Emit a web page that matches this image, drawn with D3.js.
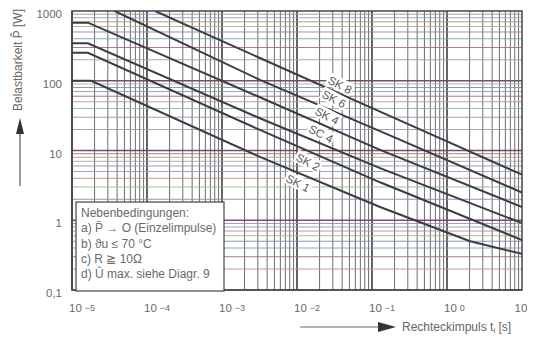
<!DOCTYPE html>
<html>
<head>
<meta charset="utf-8">
<script src="https://cdn.jsdelivr.net/npm/d3@7"></script>
<style>
  body { margin: 0; background: #fff; }
  svg { display: block; font-family: "Liberation Sans", Arial, sans-serif; }
  .tick-label { fill: #6a6a6a; font-size: 11.5px; }
  .note { fill: #6a6a6a; font-size: 12px; }
  .curve-label { fill: #555; font-size: 11.5px; }
</style>
</head>
<body>
<svg id="chart" width="539" height="340"></svg>
<script>
// curves: [pulse time t (s), power P (W)]
const curveNames = ['SK 8', 'SK 6', 'SK 4', 'SC 4', 'SK 2', 'SK 1'];
const sk8 = [[1.28e-4, 1000], [3.2e-3, 212], [0.128, 36], [10, 4.5]];
const sk6 = [[3.7e-5, 1000], [3.2e-3, 103], [0.128, 19], [10, 2.5]];
const sk4 = [[1e-5, 680], [1.63e-5, 680], [3.2e-3, 58], [0.128, 10.2], [10, 1.55]];
const sc4 = [[1e-5, 344], [1.63e-5, 344], [3.2e-3, 29], [0.128, 5.6], [10, 0.91]];
const sk2 = [[1e-5, 252], [1.63e-5, 252], [3.2e-3, 19.7], [0.128, 3.5], [10, 0.52]];
const sk1 = [[1e-5, 100], [1.8e-5, 100], [3.2e-3, 8.1], [0.128, 1.55], [2.03, 0.5], [10, 0.33]];
// where each curve label sits (t, P)
const labelT = [0.0374, 0.0311, 0.0251, 0.0209, 0.014, 0.0103];
const labelP = [87, 54.7, 31.3, 17.3, 6.8, 3.4];

const xTickExp = [-5, -4, -3, -2, -1, 0, 1];
const yTickVals = [1000, 100, 10, 1, 0.1];
const yTickText = ['1000', '100', '10', '1', '0,1'];

const notes = [
    'Nebenbedingungen:',
    'a) P\u0304 \u2192 O (Einzelimpulse)',
    'b) \u03D1u \u2264 70 \u00B0C',
    'c) R \u2267 10\u03A9',
    'd) \u00DB max. siehe Diagr. 9'
];

const svg = d3.select('#chart');
const x = d3.scaleLog().domain([1e-5, 10]).range([72, 522]);
const y = d3.scaleLog().domain([0.1, 1000]).range([290, 11]);

// grid
const hColors = ['#a0707e', '#78a8a8', '#8c88b4', '#a8b488', '#b88c8c', '#8ca2b8', '#a48cb4', '#92b4a2', '#b49c82'];
const grid = svg.append('g');
for (let k = -5; k <= 0; k++) {
    for (let m = 1; m <= 9; m++) {
        const v = m * Math.pow(10, k);
        grid.append('line')
            .attr('x1', x(v)).attr('x2', x(v)).attr('y1', y(0.1)).attr('y2', y(1000))
            .attr('stroke', m === 1 ? '#333' : '#555')
            .attr('stroke-width', m === 1 ? 1.6 : 1)
            .attr('opacity', m === 1 ? 0.95 : 0.85);
    }
}
for (let k = -1; k <= 2; k++) {
    for (let m = 1; m <= 9; m++) {
        const v = m * Math.pow(10, k);
        grid.append('line')
            .attr('x1', x(1e-5)).attr('x2', x(10)).attr('y1', y(v)).attr('y2', y(v))
            .attr('stroke', m === 1 ? '#6a4a66' : hColors[(m + k * 3 + 9) % hColors.length])
            .attr('stroke-width', m === 1 ? 1.6 : 1)
            .attr('opacity', m === 1 ? 0.95 : 0.9);
    }
}
svg.append('rect')
    .attr('x', x(1e-5)).attr('y', y(1000))
    .attr('width', x(10) - x(1e-5)).attr('height', y(0.1) - y(1000))
    .attr('fill', 'none').attr('stroke', '#444').attr('stroke-width', 1.5);

// curves
svg.append('clipPath').attr('id', 'plot').append('rect')
    .attr('x', x(1e-5)).attr('y', y(1000))
    .attr('width', x(10) - x(1e-5)).attr('height', y(0.1) - y(1000));

const line = d3.line().x(d => x(d[0])).y(d => y(d[1]));
const curves = [sk8, sk6, sk4, sc4, sk2, sk1];
svg.append('g').attr('clip-path', 'url(#plot)')
    .selectAll('path').data(curves).enter().append('path')
    .attr('d', line)
    .attr('fill', 'none')
    .attr('stroke', '#3c3c44')
    .attr('stroke-width', 2);

// curve labels
const labels = svg.append('g').selectAll('g').data(curveNames).enter().append('g')
    .attr('transform', (d, i) => `translate(${x(labelT[i])},${y(labelP[i])}) rotate(28)`);
labels.append('rect')
    .attr('x', -14).attr('y', -7).attr('width', 28).attr('height', 13)
    .attr('fill', '#fff');
labels.append('text')
    .attr('class', 'curve-label')
    .attr('text-anchor', 'middle').attr('dy', '0.35em')
    .text(d => d);

// note box
svg.append('rect')
    .attr('x', 76).attr('y', 202).attr('width', 148).attr('height', 89)
    .attr('fill', '#fff').attr('stroke', '#444').attr('stroke-width', 1.2);
svg.append('g').selectAll('text').data(notes).enter().append('text')
    .attr('class', 'note')
    .attr('x', 81).attr('y', (d, i) => 217 + i * 15.3)
    .text(d => d);

// y tick labels
svg.append('g').selectAll('text').data(yTickVals).enter().append('text')
    .attr('class', 'tick-label')
    .attr('x', 62).attr('y', d => y(d) + 3)
    .attr('dy', '0.35em').attr('text-anchor', 'end')
    .text((d, i) => yTickText[i]);

// x tick labels
const xt = svg.append('g').selectAll('text').data(xTickExp).enter().append('text')
    .attr('class', 'tick-label')
    .attr('x', d => d === 1 ? x(10) - 1 : x(Math.pow(10, d)) - 3)
    .attr('y', 312)
    .attr('text-anchor', d => d === 1 ? 'middle' : 'start');
xt.append('tspan').text('10');
xt.filter(d => d !== 1).append('tspan')
    .attr('dx', 3).attr('dy', -1).attr('font-size', 9)
    .text(d => d === 0 ? '0' : '\u2212' + Math.abs(d));

// axis titles with arrows
svg.append('text')
    .attr('transform', 'translate(22,60) rotate(-90)')
    .attr('text-anchor', 'middle')
    .attr('fill', '#666').attr('font-size', 12)
    .text('Belastbarkeit P\u0302 [W]');
svg.append('line').attr('x1', 20).attr('x2', 20).attr('y1', 186).attr('y2', 128)
    .attr('stroke', '#555').attr('stroke-width', 1.2);
svg.append('path').attr('d', 'M20,118 L16,134 L24,134 Z').attr('fill', '#333');

svg.append('text')
    .attr('x', 402).attr('y', 331)
    .attr('fill', '#666').attr('font-size', 12)
    .call(t => {
        t.append('tspan').text('Rechteckimpuls t');
        t.append('tspan').attr('font-size', 8).attr('dy', 2).text('i');
        t.append('tspan').attr('dy', -2).text(' [s]');
    });
svg.append('line').attr('x1', 300).attr('x2', 382).attr('y1', 327).attr('y2', 327)
    .attr('stroke', '#666').attr('stroke-width', 1.2);
svg.append('path').attr('d', 'M396,327 L378,322 L378,332 Z').attr('fill', '#333');
</script>
</body>
</html>
